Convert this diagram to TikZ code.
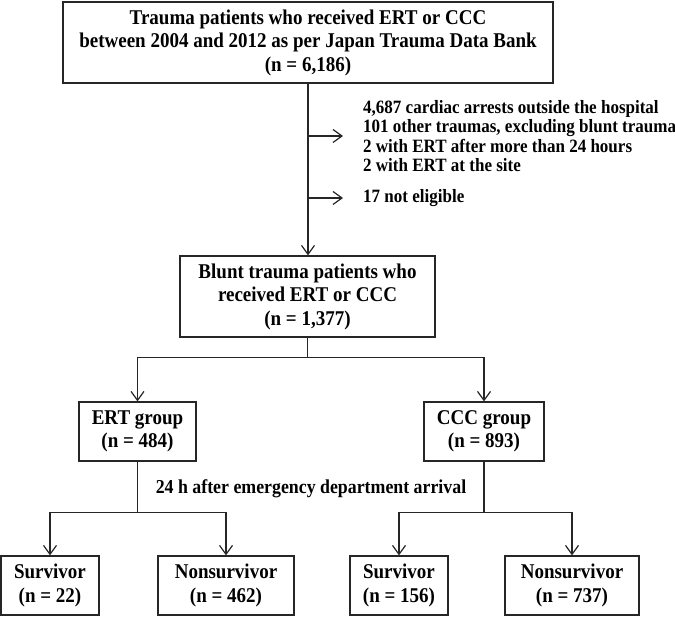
\documentclass[tikz,border=0pt]{standalone}
\usepackage{fontspec}
\setmainfont[FakeStretch=0.905]{Liberation Serif}
\usetikzlibrary{arrows.meta}
\begin{document}
\begin{tikzpicture}[x=1pt,y=-1pt,
  box/.style={draw=black!85, line width=1.2pt, inner sep=0pt, align=center,
    font=\fontsize{21}{23.5}\selectfont\bfseries},
  lbl/.style={inner sep=0pt, align=left, font=\fontsize{18.8}{19.5}\selectfont\bfseries},
  arr/.style={draw=black!85, line width=1.2pt, -{Straight Barb[length=9pt,width=13pt,line width=1.2pt]}},
  ln/.style={draw=black!85, line width=1.2pt}]
\useasboundingbox (0,0) rectangle (675,617);

\node[box, minimum width=490pt, minimum height=81pt] (top) at (308,42.5)
  {Trauma patients who received ERT or CCC\\between 2004 and 2012 as per Japan Trauma Data Bank\\(n = 6,186)};
\node[box, minimum width=255pt, minimum height=81pt] (blunt) at (307.5,296.5)
  {Blunt trauma patients who\\received ERT or CCC\\(n = 1,377)};
\node[lbl, anchor=west] (excl) at (363,136)
  {4,687 cardiac arrests outside the hospital\\101 other traumas, excluding blunt trauma\\2 with ERT after more than 24 hours\\2 with ERT at the site};
\node[lbl, anchor=west] (noteli) at (363,198) {17 not eligible};

\node[box, minimum width=117pt, minimum height=59pt] (ert) at (137.5,431.5) {ERT group\\(n = 484)};
\node[box, minimum width=120pt, minimum height=59pt] (ccc) at (484,431.5) {CCC group\\(n = 893)};

\node[lbl, align=center, anchor=center, font=\fontsize{19.7}{23}\selectfont\bfseries] (h24) at (311,489) {24 h after emergency department arrival};

\node[box, minimum width=98pt, minimum height=59pt] (s1) at (50,585.5) {Survivor\\(n = 22)};
\node[box, minimum width=136pt, minimum height=59pt] (n1) at (226,585.5) {Nonsurvivor\\(n = 462)};
\node[box, minimum width=98pt, minimum height=59pt] (s2) at (399,585.5) {Survivor\\(n = 156)};
\node[box, minimum width=134pt, minimum height=59pt] (n2) at (572,585.5) {Nonsurvivor\\(n = 737)};

\draw[arr] (top.south) -- (top.south |- blunt.north);
\draw[arr, shorten >=20pt] (top.south |- excl.west) -- (excl.west);
\draw[arr, shorten >=20pt] (top.south |- noteli.west) -- (noteli.west);

\draw[arr] (blunt.south) -- ++(0,20) -| (ert.north);
\draw[arr] (blunt.south) -- ++(0,20) -| (ccc.north);

\draw[arr] (ert.south) -- ++(0,51) -| (s1.north);
\draw[arr] (ert.south) -- ++(0,51) -| (n1.north);
\draw[arr] (ccc.south) -- ++(0,51) -| (s2.north);
\draw[arr] (ccc.south) -- ++(0,51) -| (n2.north);
\end{tikzpicture}
\end{document}
